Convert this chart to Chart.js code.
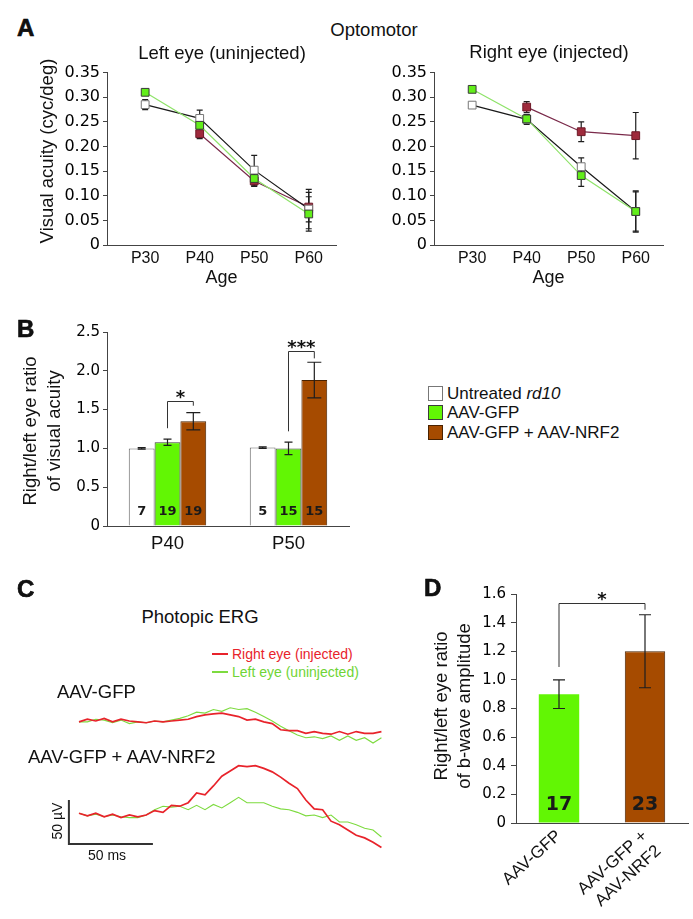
<!DOCTYPE html>
<html lang="en">
<head>
  <meta charset="UTF-8">
  <title>Optomotor acuity and photopic ERG - AAV-NRF2</title>
  <script src="https://cdn.jsdelivr.net/npm/chart.js"></script>
  <style>
    body { margin: 0; background: #fff; font-family: 'Liberation Sans', Arial, sans-serif; color: #111; }
    #fig { position: relative; width: 693px; height: 919px; overflow: hidden; }
    #fig canvas { position: absolute; }
    .t { position: absolute; white-space: nowrap; line-height: 1; z-index: 2; }
    .c { transform: translate(-50%, -50%); }
    .l { transform: translateY(-50%); }
    .v { transform: translate(-50%, -50%) rotate(-90deg); text-align: center; }
    .letter { font-weight: bold; font-size: 24px; -webkit-text-stroke: 0.6px #000; transform: translateY(-50%); }
    .box { position: absolute; width: 13px; height: 13px; z-index: 2; }
  </style>
</head>
<body>
  <div id="fig">
    <canvas id="chartAL" width="345" height="230" style="left:0;top:60px"></canvas>
    <canvas id="chartAR" width="348" height="230" style="left:345px;top:60px"></canvas>
    <canvas id="chartB" width="360" height="240" style="left:0;top:320px"></canvas>
    <canvas id="chartC" width="370" height="175" style="left:40px;top:690px"></canvas>
    <canvas id="chartD" width="263" height="339" style="left:430px;top:580px"></canvas>

    <div class="t letter" style="left:17px;top:28px">A</div>
    <div class="t c" style="left:374px;top:30px;font-size:18.5px">Optomotor</div>
    <div class="t c" style="left:222px;top:53px;font-size:18.5px">Left eye (uninjected)</div>
    <div class="t c" style="left:549px;top:52px;font-size:18.5px">Right eye (injected)</div>
    <div class="t v" style="left:47px;top:151px;font-size:18.5px">Visual acuity (cyc/deg)</div>

    <div class="t letter" style="left:17px;top:329px">B</div>
    <div class="t v" style="left:42px;top:431px;font-size:18.5px;line-height:24px">Right/left eye ratio<br>of visual acuity</div>
    <div class="box" style="left:428px;top:386px;background:#fff;border:1px solid #777"></div>
    <div class="t l" style="left:447px;top:393px;font-size:17px">Untreated <i>rd10</i></div>
    <div class="box" style="left:428px;top:405px;background:#62f604;border:1px solid #3c3c3c"></div>
    <div class="t l" style="left:447px;top:412px;font-size:17px">AAV-GFP</div>
    <div class="box" style="left:428px;top:425px;background:#a64b00;border:1px solid #4a2200"></div>
    <div class="t l" style="left:447px;top:432px;font-size:17px">AAV-GFP + AAV-NRF2</div>

    <div class="t letter" style="left:17px;top:589px">C</div>
    <div class="t c" style="left:200px;top:617px;font-size:18.5px">Photopic ERG</div>
    <div style="position:absolute;left:212px;top:653px;width:16px;height:2px;background:#e8232b"></div>
    <div class="t l" style="left:232px;top:654px;font-size:14px;color:#e8232b">Right eye (injected)</div>
    <div style="position:absolute;left:212px;top:671px;width:16px;height:1.5px;background:#7ddb3f"></div>
    <div class="t l" style="left:232px;top:672px;font-size:14px;color:#6fd435">Left eye (uninjected)</div>
    <div class="t l" style="left:57px;top:692px;font-size:18.5px">AAV-GFP</div>
    <div class="t l" style="left:28px;top:757px;font-size:18.5px">AAV-GFP + AAV-NRF2</div>
    <div class="t v" style="left:57px;top:821px;font-size:14px">50 &micro;V</div>
    <div class="t c" style="left:107px;top:855px;font-size:14px">50 ms</div>

    <div class="t letter" style="left:424px;top:588px">D</div>
    <div class="t v" style="left:452px;top:706px;font-size:18.5px;line-height:23px">Right/left eye ratio<br>of b-wave amplitude</div>
  </div>

  <script>
    // ---- A: optomotor acuity (cyc/deg) ----
    const ages = [30, 40, 50, 60];
    const untreatedLeft = [0.285, 0.257, 0.152, 0.073];
    const gfpLeft = [0.310, 0.243, 0.135, 0.063];
    const nrf2Left = [null, 0.226, 0.130, 0.077];
    const untreatedLeftErr = [0.010, 0.017, 0.030, 0.040];
    const gfpLeftErr = [0.006, 0.012, 0.016, 0.035];
    const nrf2LeftErr = [null, 0.010, 0.010, 0.030];

    const untreatedRight = [0.284, 0.255, 0.159, 0.068];
    const gfpRight = [0.316, 0.256, 0.141, 0.068];
    const nrf2Right = [null, 0.280, 0.230, 0.222];
    const untreatedRightErr = [0.005, 0.010, 0.018, 0.042];
    const gfpRightErr = [0.004, 0.008, 0.022, 0.040];
    const nrf2RightErr = [null, 0.011, 0.020, 0.047];

    // ---- B: right/left ratio of visual acuity ----
    const agesB = ['P40', 'P50'];
    const untreatedB = [1.00, 1.01];
    const gfpB = [1.08, 1.00];
    const nrf2B = [1.35, 1.88];
    const untreatedBErr = [0.01, 0.01];
    const gfpBErr = [0.04, 0.08];
    const nrf2BErr = [0.11, 0.23];
    const untreatedBN = [7, 5];
    const gfpBN = [19, 15];
    const nrf2BN = [19, 15];
    const sigB = ['*', '***'];
    const bracketB = [[1.26, 1.61, 1.55], [1.22, 2.25, 2.16]]; // left end, top, right end

    // ---- C: photopic ERG traces (uV, relative to baseline) ----
    const ergTimeMs = [0, 5, 10, 15, 20, 25, 30, 35, 40, 45, 50, 55, 60, 65, 70, 75, 80, 85, 90,
      95, 100, 105, 110, 115, 120, 125, 130, 135, 140, 145, 150, 155, 160, 165, 170, 175, 180];
    const ergGfpRight = [-1, 2, 0, 3, -1, 2, 0, -1, -2, 0, -1, 0, 1, 2, 5, 7, 8, 9, 7,
      5, 1, 2, -1, -3, -10, -11, -11, -14, -12, -14, -15, -12, -15, -12, -14, -14, -12];
    const ergGfpLeft = [-1, -1, 2, 1, -2, 1, -3, -1, -2, 0, -1, 1, 3, 6, 10, 9, 13, 11, 15,
      13, 14, 10, 5, 0, -6, -11, -16, -19, -18, -20, -17, -22, -17, -22, -19, -25, -19];
    const ergNrf2Right = [2, -1, 2, -2, 1, -3, 0, -2, 0, 5, 3, 11, 10, 14, 25, 23, 33, 44, 50,
      56, 55, 56, 53, 49, 43, 36, 30, 17, 7, 6, -7, -11, -17, -23, -26, -31, -37];
    const ergNrf2Left = [2, -1, 1, -2, 0, -2, -3, -3, 0, 6, 10, 9, 10, 6, 11, 6, 12, 8, 14,
      20, 14, 14, 14, 10, 7, 6, 3, -1, 0, -3, 0, -8, -8, -11, -15, -17, -25];
    const scaleBarMs = 50;
    const scaleBarUv = 50;

    // ---- D: right/left ratio of b-wave amplitude ----
    const groupsD = [['AAV-GFP'], ['AAV-GFP +', 'AAV-NRF2']];
    const ratioD = [0.90, 1.20];
    const ratioDErr = [0.10, 0.255];
    const nD = [17, 23];
    const sigD = '*';
    const bracketD = [1.09, 1.54, 1.49];

    const GREEN = '#62f604';
    const BROWN = '#a64b00';
    const MAROON = '#9e2a3c';
    const ERG_RED = '#e8232b';
    const ERG_GREEN = '#7ddb3f';
    const NUM_FONT = 'DejaVu Sans';

    Chart.defaults.font.family = "'Liberation Sans', Arial, sans-serif";
    Chart.defaults.color = '#111';
    Chart.defaults.animation = false;

    // error bars, drawn from each dataset's "errors" array
    const errorBars = {
      id: 'errorBars',
      draw(chart, opts) {
        const ctx = chart.ctx;
        const y = chart.scales.y;
        chart.data.datasets.forEach((ds, di) => {
          if (!ds.errors) return;
          chart.getDatasetMeta(di).data.forEach((el, i) => {
            const raw = ds.data[i];
            const v = (raw !== null && typeof raw === 'object') ? raw.y : raw;
            const e = ds.errors[i];
            if (v == null || e == null) return;
            const top = y.getPixelForValue(v + e);
            const bot = y.getPixelForValue(v - e);
            const cap = ds.errorCap || 3;
            ctx.save();
            ctx.strokeStyle = '#1e1e1e';
            ctx.lineWidth = 1.2;
            ctx.beginPath();
            ctx.moveTo(el.x, top); ctx.lineTo(el.x, bot);
            ctx.moveTo(el.x - cap, top); ctx.lineTo(el.x + cap, top);
            ctx.moveTo(el.x - cap, bot); ctx.lineTo(el.x + cap, bot);
            ctx.stroke();
            ctx.restore();
          });
        });
      },
      beforeDatasetsDraw(chart, args, opts) { if (opts.under) this.draw(chart, opts); },
      afterDatasetsDraw(chart, args, opts) { if (!opts.under) this.draw(chart, opts); }
    };

    // n per group written near the bottom of each bar
    const barCounts = {
      id: 'barCounts',
      afterDatasetsDraw(chart, args, opts) {
        const ctx = chart.ctx;
        const base = chart.scales.y.getPixelForValue(0);
        ctx.save();
        ctx.font = opts.font;
        ctx.fillStyle = '#1a1a1a';
        ctx.textAlign = 'center';
        ctx.textBaseline = 'middle';
        chart.data.datasets.forEach((ds, di) => {
          if (!ds.counts) return;
          chart.getDatasetMeta(di).data.forEach((el, i) => ctx.fillText(ds.counts[i], el.x, base - opts.lift));
        });
        ctx.restore();
      }
    };

    // significance brackets between two bars
    const brackets = {
      id: 'brackets',
      afterDatasetsDraw(chart, args, opts) {
        const ctx = chart.ctx;
        const y = chart.scales.y;
        ctx.save();
        ctx.strokeStyle = '#333';
        ctx.lineWidth = 1;
        ctx.fillStyle = '#111';
        ctx.font = opts.font;
        ctx.textAlign = 'center';
        ctx.textBaseline = 'alphabetic';
        opts.items.forEach(b => {
          const x1 = chart.getDatasetMeta(b.from[0]).data[b.from[1]].x;
          const x2 = chart.getDatasetMeta(b.to[0]).data[b.to[1]].x;
          const yl = y.getPixelForValue(b.ends[0]);
          const yt = Math.round(y.getPixelForValue(b.ends[1])) + 0.5;
          const yr = y.getPixelForValue(b.ends[2]);
          ctx.beginPath();
          ctx.moveTo(x1, yl); ctx.lineTo(x1, yt); ctx.lineTo(x2, yt); ctx.lineTo(x2, yr);
          ctx.stroke();
          ctx.fillText(b.label, (x1 + x2) / 2, yt + 1);
        });
        ctx.restore();
      }
    };

    function valueAxis(max, step, width, size, decimals, tickLength, pad) {
      return {
        min: 0, max: max,
        ticks: {
          stepSize: step, padding: pad, color: '#000',
          font: { family: NUM_FONT, size: size },
          callback: v => v === 0 ? '0' : v.toFixed(decimals)
        },
        grid: { drawOnChartArea: false, tickLength: tickLength, color: '#444' },
        border: { color: '#444' },
        afterFit: s => { s.width = width; }
      };
    }

    function baseOptions(padding) {
      return {
        responsive: false,
        devicePixelRatio: 1,
        animation: false,
        layout: { padding: padding },
        plugins: { legend: { display: false }, tooltip: { enabled: false } }
      };
    }

    function optomotorChart(id, untreated, gfp, nrf2, errU, errG, errN, yWidth, rightPad) {
      const pts = arr => ages.map((a, i) => ({ x: a, y: arr[i] }));
      const line = { showLine: true, tension: 0, borderWidth: 1.2, pointStyle: 'rect', pointRadius: 5.5, pointBorderWidth: 1, errorCap: 3 };
      const options = baseOptions({ top: 9, right: rightPad, left: 0, bottom: 0 });
      options.plugins.errorBars = { under: true };
      options.scales = {
        x: {
          type: 'linear', min: 23, max: 65,
          afterBuildTicks: s => { s.ticks = ages.map(v => ({ value: v })); },
          ticks: { callback: v => 'P' + v, font: { size: 16 }, padding: 4, color: '#111' },
          grid: { drawOnChartArea: false, drawTicks: false },
          border: { color: '#444' },
          title: { display: true, text: 'Age', font: { size: 18 }, padding: { top: 0, bottom: 1 }, color: '#111' },
          afterFit: s => { s.height = 45; }
        },
        y: valueAxis(0.35, 0.05, yWidth, 16, 2, 4, 3)
      };
      new Chart(document.getElementById(id), {
        type: 'line',
        data: {
          datasets: [
            Object.assign({ label: 'AAV-GFP', data: pts(gfp), errors: errG, order: 0,
              borderColor: '#8fe36a', backgroundColor: '#62ee1a', pointBorderColor: '#3a3a3a' }, line),
            Object.assign({ label: 'Untreated rd10', data: pts(untreated), errors: errU, order: 1,
              borderColor: '#1a1a1a', backgroundColor: '#ffffff', pointBorderColor: '#777' }, line),
            Object.assign({ label: 'AAV-GFP + AAV-NRF2', data: pts(nrf2), errors: errN, order: 2,
              borderColor: '#7a2a4a', backgroundColor: MAROON, pointBorderColor: '#6e1a28' }, line)
          ]
        },
        options: options,
        plugins: [errorBars]
      });
    }

    function renderOptomotor() {
      optomotorChart('chartAL', untreatedLeft, gfpLeft, nrf2Left,
        untreatedLeftErr, gfpLeftErr, nrf2LeftErr, 107, 9);
      optomotorChart('chartAR', untreatedRight, gfpRight, nrf2Right,
        untreatedRightErr, gfpRightErr, nrf2RightErr, 89, 30);
    }

    function renderRatioB() {
      const bar = { categoryPercentage: 0.64, barPercentage: 1, borderWidth: 1 };
      const options = baseOptions({ top: 9, right: 11, left: 0, bottom: 0 });
      options.plugins.barCounts = { font: 'bold 13px ' + NUM_FONT, lift: 14 };
      options.plugins.brackets = {
        font: 'bold 18px ' + NUM_FONT,
        items: sigB.map((s, i) => ({ from: [1, i], to: [2, i], ends: bracketB[i], label: s }))
      };
      options.scales = {
        x: {
          ticks: { font: { size: 18.5 }, padding: 7, color: '#111' },
          grid: { drawOnChartArea: false, drawTicks: false },
          border: { color: '#444' },
          afterFit: s => { s.height = 34; }
        },
        y: valueAxis(2.5, 0.5, 107, 15, 1, 4, 3)
      };
      new Chart(document.getElementById('chartB'), {
        type: 'bar',
        data: {
          labels: agesB,
          datasets: [
            Object.assign({ label: 'Untreated rd10', data: untreatedB, errors: untreatedBErr, counts: untreatedBN,
              backgroundColor: '#ffffff', borderColor: '#666', errorCap: 4 }, bar),
            Object.assign({ label: 'AAV-GFP', data: gfpB, errors: gfpBErr, counts: gfpBN,
              backgroundColor: GREEN, borderColor: '#3c3c3c', errorCap: 4 }, bar),
            Object.assign({ label: 'AAV-GFP + AAV-NRF2', data: nrf2B, errors: nrf2BErr, counts: nrf2BN,
              backgroundColor: BROWN, borderColor: '#4a2200', errorCap: 7 }, bar)
          ]
        },
        options: options,
        plugins: [errorBars, barCounts, brackets]
      });
    }

    function renderErg() {
      const topOffset = 106.8; // AAV-GFP traces are stacked above the AAV-NRF2 pair
      const trace = (values, offset, color, width, order, label) => ({
        label: label,
        data: ergTimeMs.map((t, i) => ({ x: t, y: values[i] + offset })),
        borderColor: color, borderWidth: width, order: order,
        pointRadius: 0, tension: 0, fill: false
      });
      const x0 = -6, y0 = -33;
      const options = baseOptions(0);
      options.scales = {
        x: { type: 'linear', display: false, min: -23.2, max: 197 },
        y: { display: false, min: -56.8, max: 142 }
      };
      new Chart(document.getElementById('chartC'), {
        type: 'line',
        data: {
          datasets: [
            trace(ergGfpRight, topOffset, ERG_RED, 1.7, 0, 'AAV-GFP right'),
            trace(ergGfpLeft, topOffset, ERG_GREEN, 1.1, 1, 'AAV-GFP left'),
            trace(ergNrf2Right, 0, ERG_RED, 1.7, 0, 'AAV-GFP + AAV-NRF2 right'),
            trace(ergNrf2Left, 0, ERG_GREEN, 1.1, 1, 'AAV-GFP + AAV-NRF2 left'),
            {
              label: 'scale bar',
              data: [{ x: x0, y: y0 + scaleBarUv }, { x: x0, y: y0 }, { x: x0 + scaleBarMs, y: y0 }],
              borderColor: '#333', borderWidth: 2, pointRadius: 0, tension: 0, order: 2
            }
          ]
        },
        options: options
      });
    }

    function renderRatioD() {
      const options = baseOptions({ top: 11, right: 5, left: 0, bottom: 0 });
      options.plugins.barCounts = { font: 'bold 19px ' + NUM_FONT, lift: 18 };
      options.plugins.brackets = {
        font: 'bold 18px ' + NUM_FONT,
        items: [{ from: [0, 0], to: [0, 1], ends: bracketD, label: sigD }]
      };
      options.scales = {
        x: {
          ticks: { font: { size: 17 }, minRotation: 42, maxRotation: 42, padding: 3, color: '#111' },
          grid: { drawOnChartArea: false, drawTicks: false },
          border: { color: '#444' },
          afterFit: s => { s.height = 96; }
        },
        y: valueAxis(1.6, 0.2, 86, 15, 1, 5, 5)
      };
      new Chart(document.getElementById('chartD'), {
        type: 'bar',
        data: {
          labels: groupsD,
          datasets: [{
            label: 'b-wave ratio', data: ratioD, errors: ratioDErr, counts: nD, errorCap: 6,
            backgroundColor: [GREEN, BROWN], borderColor: '#4a2200', borderWidth: [0, 1],
            categoryPercentage: 1, barPercentage: 0.47
          }]
        },
        options: options,
        plugins: [errorBars, barCounts, brackets]
      });
    }

    renderOptomotor();
    renderRatioB();
    renderErg();
    renderRatioD();
  </script>
</body>
</html>
